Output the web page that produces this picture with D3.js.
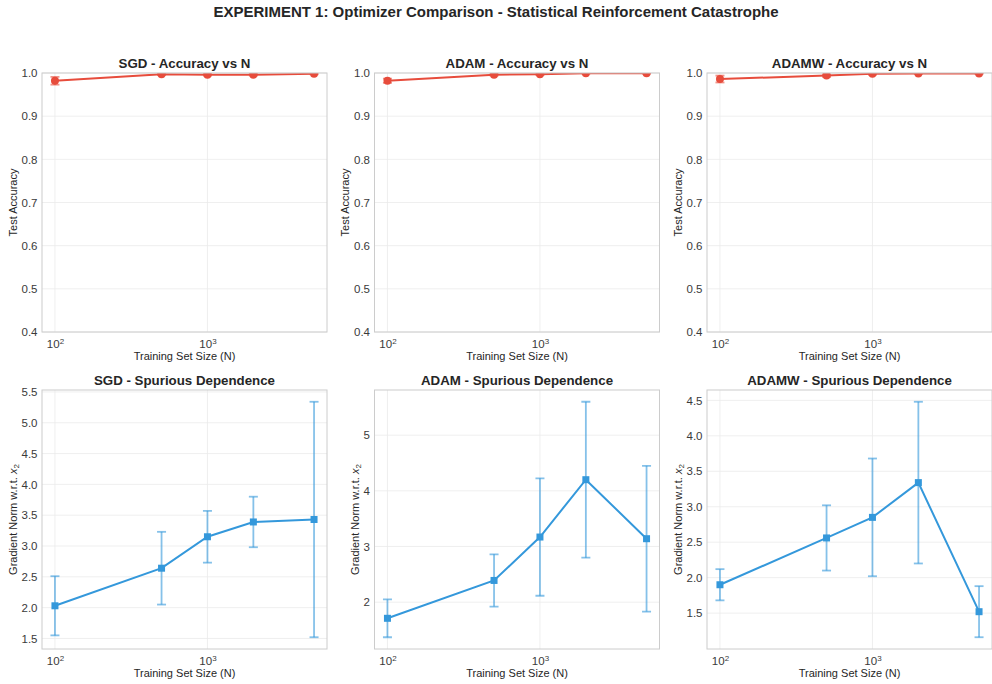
<!DOCTYPE html>
<html>
<head>
<meta charset="utf-8">
<title>Optimizer Comparison</title>
<style>
body { margin: 0; background: #fff; }
text { font-family: "Liberation Sans", Arial, sans-serif; fill: #333; }
.grid line { stroke: #ebebeb; stroke-width: 0.8px; }
.frame { fill: none; stroke: #cccccc; stroke-width: 1px; }
.tick text { font-size: 11.5px; fill: #3a3a3a; }
.ptitle { font-size: 13.3px; font-weight: bold; fill: #262626; }
.alabel { font-size: 11px; fill: #262626; }
</style>
</head>
<body>
<script src="https://cdn.jsdelivr.net/npm/d3@7"></script>
<script>

// training set sizes (x axis, log)
var sizes = [100, 500, 1000, 2000, 5000];
var optimizers = ["SGD", "ADAM", "ADAMW"];

// test accuracy, mean and std
var accSGD = [0.982, 0.997, 0.996, 0.996, 0.998];
var accSGDErr = [0.009, 0.002, 0.002, 0.002, 0.001];
var accADAM = [0.982, 0.996, 0.997, 0.9995, 0.9995];
var accADAMErr = [0.005, 0.002, 0.002, 0.001, 0.001];
var accADAMW = [0.986, 0.994, 0.998, 0.999, 0.999];
var accADAMWErr = [0.008, 0.003, 0.002, 0.001, 0.001];

// gradient norm wrt x2, mean and std
var gradSGD = [2.03, 2.64, 3.15, 3.39, 3.43];
var gradSGDErr = [0.48, 0.59, 0.42, 0.41, 1.91];
var gradADAM = [1.71, 2.39, 3.17, 4.20, 3.14];
var gradADAMErr = [0.34, 0.47, 1.055, 1.40, 1.31];
var gradADAMW = [1.90, 2.56, 2.85, 3.34, 1.52];
var gradADAMWErr = [0.22, 0.46, 0.83, 1.14, 0.36];

// y tick labels per panel
var accTicks = [0.4, 0.5, 0.6, 0.7, 0.8, 0.9, 1.0];
var gradTicksSGD = [1.5, 2.0, 2.5, 3.0, 3.5, 4.0, 4.5, 5.0, 5.5];
var gradTicksADAM = [2, 3, 4, 5];
var gradTicksADAMW = [1.5, 2.0, 2.5, 3.0, 3.5, 4.0, 4.5];
var xTicks = [100, 1000];

var width = 992, height = 684;
var colLeft = [42, 374.5, 707], panelW = 285;
var rowTop = [73, 390], panelH = 259;

var svg = d3.select("body").append("svg")
    .attr("width", width)
    .attr("height", height);

svg.append("text")
    .attr("x", width / 2)
    .attr("y", 17)
    .attr("text-anchor", "middle")
    .style("font-size", "15px")
    .style("font-weight", "bold")
    .style("fill", "#262626")
    .text("EXPERIMENT 1: Optimizer Comparison - Statistical Reinforcement Catastrophe");

var panels = [
  {row: 0, col: 0, name: "SGD", mean: accSGD, err: accSGDErr, ticks: accTicks, kind: "acc"},
  {row: 0, col: 1, name: "ADAM", mean: accADAM, err: accADAMErr, ticks: accTicks, kind: "acc"},
  {row: 0, col: 2, name: "ADAMW", mean: accADAMW, err: accADAMWErr, ticks: accTicks, kind: "acc"},
  {row: 1, col: 0, name: "SGD", mean: gradSGD, err: gradSGDErr, ticks: gradTicksSGD, kind: "grad"},
  {row: 1, col: 1, name: "ADAM", mean: gradADAM, err: gradADAMErr, ticks: gradTicksADAM, kind: "grad"},
  {row: 1, col: 2, name: "ADAMW", mean: gradADAMW, err: gradADAMWErr, ticks: gradTicksADAMW, kind: "grad"}
];

// matplotlib-like 5% margins on log x
var lx0 = Math.log10(d3.min(sizes)), lx1 = Math.log10(d3.max(sizes));
var padX = (lx1 - lx0) * 0.05;

panels.forEach(function(p, i) {
  var x0 = colLeft[p.col], y0 = rowTop[p.row];
  var g = svg.append("g").attr("transform", "translate(" + x0 + "," + y0 + ")");

  var x = d3.scaleLog()
      .domain([Math.pow(10, lx0 - padX), Math.pow(10, lx1 + padX)])
      .range([0, panelW]);

  var yDom;
  if (p.kind == "acc") {
    yDom = [0.4, 1.0];
  } else {
    var lo = d3.min(p.mean, function(m, j) { return m - p.err[j]; });
    var hi = d3.max(p.mean, function(m, j) { return m + p.err[j]; });
    var pad = (hi - lo) * 0.05;
    yDom = [lo - pad, hi + pad];
  }
  var y = d3.scaleLinear().domain(yDom).range([panelH, 0]);

  var color = p.kind == "acc" ? "#e74c3c" : "#3498db";
  var fmt = (p.kind == "grad" && p.name == "ADAM") ? d3.format("d") : d3.format(".1f");

  // grid
  var grid = g.append("g").attr("class", "grid");
  grid.selectAll(".gy").data(p.ticks).enter().append("line")
      .attr("x1", 0).attr("x2", panelW)
      .attr("y1", function(d) { return y(d); })
      .attr("y2", function(d) { return y(d); });
  grid.selectAll(".gx").data(xTicks).enter().append("line")
      .attr("y1", 0).attr("y2", panelH)
      .attr("x1", function(d) { return x(d); })
      .attr("x2", function(d) { return x(d); });

  // y axis
  var yAxis = g.append("g")
      .call(d3.axisLeft(y).tickValues(p.ticks).tickFormat(fmt).tickSize(0).tickPadding(4.5));
  yAxis.select(".domain").remove();

  // x axis with superscript exponents
  var xAxis = g.append("g")
      .attr("transform", "translate(0," + panelH + ")")
      .call(d3.axisBottom(x).tickValues(xTicks).tickFormat("").tickSize(0).tickPadding(4));
  xAxis.select(".domain").remove();
  xAxis.selectAll(".tick text")
      .attr("dy", "1.0em")
      .each(function(d) {
        var t = d3.select(this);
        t.append("tspan").text("10");
        t.append("tspan").attr("dy", "-0.45em").style("font-size", "8px")
            .text(Math.round(Math.log10(d)));
      });

  // clip to axes area
  var clipId = "clip" + i;
  g.append("clipPath").attr("id", clipId)
      .append("rect").attr("width", panelW).attr("height", panelH);
  var plot = g.append("g").attr("clip-path", "url(#" + clipId + ")");

  var pts = sizes.map(function(s, j) { return {n: s, m: p.mean[j], e: p.err[j]}; });

  // error bars
  var eb = plot.append("g")
      .attr("stroke", color)
      .attr("stroke-opacity", 0.6)
      .attr("stroke-width", 1.8);
  eb.selectAll(".bar").data(pts).enter().append("line")
      .attr("x1", function(d) { return x(d.n); })
      .attr("x2", function(d) { return x(d.n); })
      .attr("y1", function(d) { return y(d.m - d.e); })
      .attr("y2", function(d) { return y(d.m + d.e); });
  [-1, 1].forEach(function(sign) {
    eb.selectAll(".cap" + sign).data(pts).enter().append("line")
        .attr("x1", function(d) { return x(d.n) - 4.5; })
        .attr("x2", function(d) { return x(d.n) + 4.5; })
        .attr("y1", function(d) { return y(d.m + sign * d.e); })
        .attr("y2", function(d) { return y(d.m + sign * d.e); });
  });

  // mean line
  var line = d3.line()
      .x(function(d) { return x(d.n); })
      .y(function(d) { return y(d.m); });
  plot.append("path")
      .datum(pts)
      .attr("d", line)
      .attr("fill", "none")
      .attr("stroke", color)
      .attr("stroke-width", 2);

  // markers
  if (p.kind == "acc") {
    plot.selectAll(".dot").data(pts).enter().append("circle")
        .attr("cx", function(d) { return x(d.n); })
        .attr("cy", function(d) { return y(d.m); })
        .attr("r", 4)
        .attr("fill", color);
  } else {
    plot.selectAll(".sq").data(pts).enter().append("rect")
        .attr("x", function(d) { return x(d.n) - 3.5; })
        .attr("y", function(d) { return y(d.m) - 3.5; })
        .attr("width", 7)
        .attr("height", 7)
        .attr("fill", color);
  }

  // frame
  g.append("rect").attr("class", "frame")
      .attr("width", panelW).attr("height", panelH);

  // titles and labels
  g.append("text").attr("class", "ptitle")
      .attr("x", panelW / 2)
      .attr("y", -5)
      .attr("text-anchor", "middle")
      .text(p.kind == "acc" ? p.name + " - Accuracy vs N" : p.name + " - Spurious Dependence");

  g.append("text").attr("class", "alabel")
      .attr("x", panelW / 2)
      .attr("y", panelH + 27.5)
      .attr("text-anchor", "middle")
      .text("Training Set Size (N)");

  var bb = yAxis.node().getBBox();
  var yl = g.append("text").attr("class", "alabel")
      .attr("transform", "translate(" + (bb.x - 5) + "," + (panelH / 2) + ") rotate(-90)")
      .attr("text-anchor", "middle");
  if (p.kind == "acc") {
    yl.text("Test Accuracy");
  } else {
    yl.append("tspan").text("Gradient Norm w.r.t. ");
    yl.append("tspan").style("font-style", "italic").text("x");
    yl.append("tspan").attr("dy", "0.3em").style("font-size", "8px").text("2");
  }
});

</script>
</body>
</html>
